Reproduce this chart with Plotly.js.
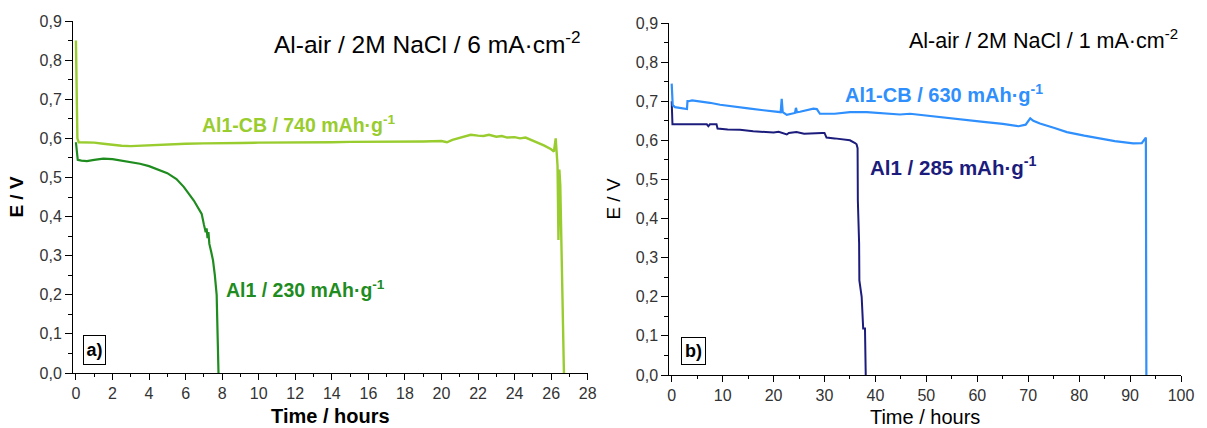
<!DOCTYPE html>
<html>
<head>
<meta charset="utf-8">
<script src="https://cdn.plot.ly/plotly-3.0.1.min.js"></script>
<style>html,body{margin:0;padding:0;background:#fff}#chart{width:1207px;height:428px}</style>
</head>
<body>
<div id="chart"></div>
<script>
// ---- Panel a) 6 mA/cm2 ----
var tAl1CB_6 = [0, 0.02, 0.08, 0.15, 0.5, 1, 1.5, 2, 2.5, 3, 3.5, 4, 5, 6, 7, 8, 9, 10, 11, 12, 13, 14, 15, 16, 17, 18, 19, 20, 20.3, 20.6, 21, 21.3, 21.6, 22, 22.3, 22.6, 23, 23.3, 23.6, 24, 24.3, 24.6, 25, 25.3, 25.6, 26, 26.15, 26.25, 26.3, 26.35, 26.4, 26.45, 26.5, 26.55, 26.6, 26.7];
var vAl1CB_6 = [0.85, 0.80, 0.60, 0.59, 0.59, 0.589, 0.586, 0.583, 0.581, 0.580, 0.581, 0.582, 0.585, 0.586, 0.587, 0.587, 0.588, 0.589, 0.589, 0.590, 0.590, 0.590, 0.591, 0.591, 0.592, 0.592, 0.592, 0.593, 0.590, 0.596, 0.601, 0.605, 0.609, 0.607, 0.606, 0.609, 0.604, 0.606, 0.602, 0.603, 0.600, 0.602, 0.594, 0.589, 0.582, 0.572, 0.566, 0.600, 0.560, 0.530, 0.340, 0.520, 0.480, 0.36, 0.20, 0.0];
var tAl1_6 = [0, 0.05, 0.1, 0.3, 0.6, 1, 1.5, 2, 2.5, 3, 3.5, 4, 4.5, 5, 5.5, 5.9, 6.45, 6.88, 7.0, 7.1, 7.15, 7.2, 7.25, 7.3, 7.4, 7.5, 7.6, 7.7, 7.75, 7.8];
var vAl1_6 = [0.59, 0.56, 0.545, 0.543, 0.542, 0.545, 0.548, 0.547, 0.543, 0.540, 0.535, 0.529, 0.521, 0.511, 0.496, 0.476, 0.441, 0.407, 0.38, 0.36, 0.37, 0.345, 0.36, 0.33, 0.31, 0.288, 0.25, 0.20, 0.10, 0.0];

// ---- Panel b) 1 mA/cm2 ----
var tAl1CB_1 = [0, 0.05, 0.2, 0.65, 1.5, 2.5, 3.0, 3.1, 3.3, 4, 5.6, 7.5, 9.5, 12, 15.4, 18, 20.6, 21.4, 21.6, 21.8, 22.6, 23.5, 24.2, 24.4, 24.6, 25.2, 26.5, 27.8, 28.5, 29.1, 32, 35, 38.3, 41, 44.8, 46.8, 50, 54.6, 58, 61.2, 65, 68.1, 69.5, 70.4, 71, 72.3, 75, 77.6, 81, 84.1, 87, 90.6, 92.3, 93.1, 93.2];
var vAl1CB_1 = [0.745, 0.705, 0.69, 0.685, 0.683, 0.681, 0.680, 0.70, 0.70, 0.702, 0.700, 0.696, 0.691, 0.686, 0.681, 0.677, 0.672, 0.672, 0.706, 0.672, 0.665, 0.668, 0.670, 0.683, 0.672, 0.673, 0.677, 0.681, 0.680, 0.668, 0.668, 0.672, 0.672, 0.670, 0.666, 0.668, 0.663, 0.656, 0.652, 0.647, 0.642, 0.636, 0.640, 0.656, 0.650, 0.643, 0.632, 0.621, 0.612, 0.604, 0.598, 0.592, 0.593, 0.607, 0.0];
var tAl1_1 = [0, 0.05, 0.15, 3, 6.9, 7.2, 7.5, 8.8, 9, 11, 13.4, 16, 18.7, 20, 21, 22.6, 23, 24.5, 26, 27.8, 29.5, 30.0, 30.4, 32, 35, 36, 36.3, 36.5, 36.55, 36.8, 36.85, 37.3, 37.6, 37.95, 38.1];
var vAl1_1 = [0.70, 0.66, 0.641, 0.641, 0.641, 0.636, 0.641, 0.641, 0.630, 0.628, 0.627, 0.623, 0.621, 0.620, 0.622, 0.615, 0.619, 0.621, 0.617, 0.619, 0.619, 0.619, 0.607, 0.605, 0.600, 0.593, 0.590, 0.580, 0.446, 0.336, 0.242, 0.20, 0.119, 0.119, 0.0];

var cLight = '#99cc2e', cDark = '#1f8c1f', cBlue = '#2f8ffc', cNavy = '#1c1c7c';
var FONT = '"Liberation Sans", Arial, sans-serif';

var traces = [
  {x: tAl1_6, y: vAl1_6, xaxis: 'x', yaxis: 'y', mode: 'lines', line: {color: cDark, width: 2.2}},
  {x: tAl1CB_6, y: vAl1CB_6, xaxis: 'x', yaxis: 'y', mode: 'lines', line: {color: cLight, width: 2.4}},
  {x: tAl1_1, y: vAl1_1, xaxis: 'x2', yaxis: 'y2', mode: 'lines', line: {color: cNavy, width: 2}},
  {x: tAl1CB_1, y: vAl1CB_1, xaxis: 'x2', yaxis: 'y2', mode: 'lines', line: {color: cBlue, width: 2.2}}
];

function xax(domain, range, dtick, minor, anchor, bold) {
  return {
    domain: domain, range: range, anchor: anchor, dtick: dtick, tick0: 0,
    showline: true, linecolor: '#000', linewidth: 1, showgrid: false, zeroline: false,
    ticks: 'outside', ticklen: 6, tickcolor: '#000', tickwidth: 1,
    minor: {dtick: minor, tick0: 0, ticks: 'outside', ticklen: 3, tickcolor: '#000', showgrid: false},
    tickfont: {family: FONT, size: 16, color: '#333'},
    title: {text: bold ? '<b>Time / hours</b>' : 'Time / hours', standoff: 7, font: {family: FONT, size: 20, color: '#000'}},
    automargin: false, fixedrange: true
  };
}
function yax(domain, anchor, bold) {
  return {
    domain: domain, range: [0, 0.9], anchor: anchor, dtick: 0.1, tick0: 0, tickformat: '.1f',
    showline: true, linecolor: '#000', linewidth: 1, showgrid: false, zeroline: false,
    ticks: 'outside', ticklen: 7, tickcolor: '#000', tickwidth: 1,
    minor: {dtick: 0.05, tick0: 0, ticks: 'outside', ticklen: 4, tickcolor: '#000', showgrid: false},
    tickfont: {family: FONT, size: 16, color: '#333'},
    title: {text: bold ? '<b>E / V</b>' : 'E / V', standoff: 10, font: {family: FONT, size: 19, color: '#000'}},
    automargin: false, fixedrange: true
  };
}

var W = 1207, H = 428;
// plot area: left 73, right 1181, top 20.7, bottom 374.7
var mL = 73, mR = W - 1181, mT = 20.7, mB = H - 374.7;
var pw = W - mL - mR, ph = H - mT - mB;
function px(x) { return (x - mL) / pw; }
function py(y) { return (H - mB - y) / ph; }

var annotations = [
  {xref: 'paper', yref: 'paper', x: px(272), y: py(42), xanchor: 'left', yanchor: 'middle', showarrow: false,
   text: 'Al-air / 2M NaCl / 6 mA·cm<sup>-2</sup>', font: {family: FONT, size: 24.5, color: '#000'}},
  {xref: 'paper', yref: 'paper', x: px(907), y: py(39), xanchor: 'left', yanchor: 'middle', showarrow: false,
   text: 'Al-air / 2M NaCl / 1 mA·cm<sup>-2</sup>', font: {family: FONT, size: 21.5, color: '#000'}},
  {xref: 'paper', yref: 'paper', x: px(200), y: py(124), xanchor: 'left', yanchor: 'middle', showarrow: false,
   text: '<b>Al1-CB / 740 mAh·g<sup>-1</sup></b>', font: {family: FONT, size: 19.5, color: cLight}},
  {xref: 'paper', yref: 'paper', x: px(224), y: py(289), xanchor: 'left', yanchor: 'middle', showarrow: false,
   text: '<b>Al1 / 230 mAh·g<sup>-1</sup></b>', font: {family: FONT, size: 19.5, color: cDark}},
  {xref: 'paper', yref: 'paper', x: px(843), y: py(93), xanchor: 'left', yanchor: 'middle', showarrow: false,
   text: '<b>Al1-CB / 630 mAh·g<sup>-1</sup></b>', font: {family: FONT, size: 20, color: cBlue}},
  {xref: 'paper', yref: 'paper', x: px(868), y: py(166), xanchor: 'left', yanchor: 'middle', showarrow: false,
   text: '<b>Al1 / 285 mAh·g<sup>-1</sup></b>', font: {family: FONT, size: 20.5, color: cNavy}},
  {xref: 'paper', yref: 'paper', x: px(94.5), y: py(350), xanchor: 'center', yanchor: 'middle', showarrow: false,
   text: '<b>a)</b>', font: {family: FONT, size: 18, color: '#000'}, bordercolor: '#000', borderwidth: 1, borderpad: 1,
   width: 19, height: 26, bgcolor: '#fff'},
  {xref: 'paper', yref: 'paper', x: px(693), y: py(350.5), xanchor: 'center', yanchor: 'middle', showarrow: false,
   text: '<b>b)</b>', font: {family: FONT, size: 18, color: '#000'}, bordercolor: '#000', borderwidth: 1, borderpad: 1,
   width: 21, height: 24, bgcolor: '#fff'}
];

var layout = {
  width: W, height: H,
  margin: {l: mL, r: mR, t: mT, b: mB, pad: 0},
  paper_bgcolor: '#fff', plot_bgcolor: '#fff',
  showlegend: false,
  separators: ',.',
  xaxis: xax([0, (587.7 - mL) / pw], [-0.16, 28], 2, 1, 'y', true),
  yaxis: yax([2 / ph, 1], 'x', true),
  xaxis2: xax([(669.3 - mL) / pw, 1], [-0.47, 100], 10, 5, 'y2', false),
  yaxis2: yax([0, 1 - 2 / ph], 'x2', false),
  annotations: annotations
};

Plotly.newPlot('chart', traces, layout, {staticPlot: true, displayModeBar: false});
</script>
</body>
</html>
